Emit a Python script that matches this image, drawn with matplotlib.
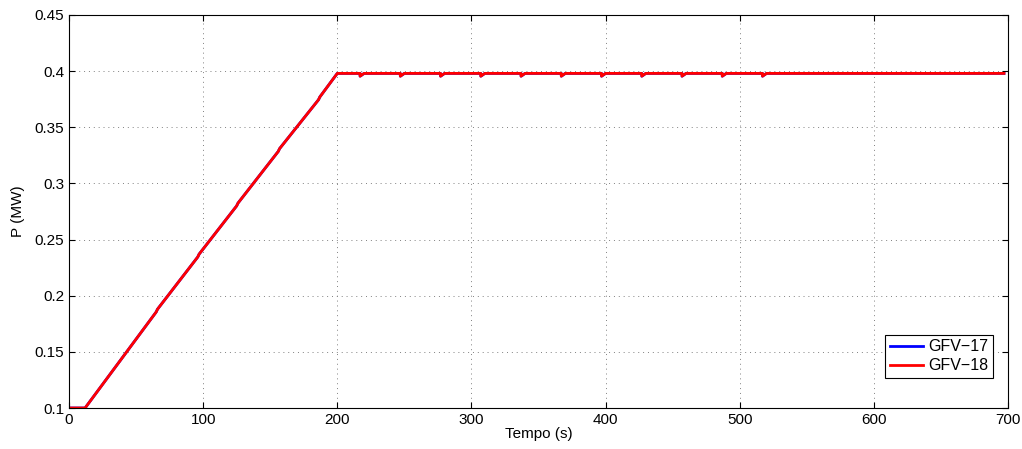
import numpy as np
import matplotlib
matplotlib.use("Agg")
from matplotlib import pyplot as plt

plt.rcParams['font.family'] = ['Liberation Sans', 'DejaVu Sans']

# time (s) and active power (MW)
t_ramp = [0, 12, 65, 66, 96, 97, 125, 126, 156, 157, 186, 187, 200]
p_ramp = [0.100, 0.100, 0.1855, 0.1880, 0.2345, 0.2370, 0.2800, 0.2825,
          0.3285, 0.3310, 0.3745, 0.3770, 0.398]

dip_times = [217, 247, 277, 307, 337, 367, 397, 427, 457, 487, 517]
p_top = 0.398
p_dip = 0.3955
t_end = 697

labels = ['GFV\u221217', 'GFV\u221218']
colors = ['#0000ff', '#ff0000']


def build_series():
	t = list(t_ramp)
	p = list(p_ramp)
	for td in dip_times:
		t += [td, td, td + 3]
		p += [p_top, p_dip, p_top]
	t.append(t_end)
	p.append(p_top)
	return np.array(t), np.array(p)


t17, p17 = build_series()
t18, p18 = build_series()

fig = plt.figure(figsize=(10.22, 4.49), dpi=100)
ax = fig.add_axes([0.0675, 0.0913, 0.9188, 0.8753])

ax.plot(t17, p17, color=colors[0], lw=2, label=labels[0])
ax.plot(t18, p18, color=colors[1], lw=2, label=labels[1])

ax.set_xlim(0, 700)
ax.set_ylim(0.1, 0.45)
ax.set_xticks(np.arange(0, 701, 100))
ax.set_yticks(np.arange(0.1, 0.451, 0.05))
ax.set_yticklabels(['0.1', '0.15', '0.2', '0.25', '0.3', '0.35', '0.4', '0.45'])
ax.tick_params(direction='in', top=True, right=True, labelsize=11, length=4)
ax.grid(True, linestyle=(0, (1, 4)), color='#808080', lw=0.7)

ax.set_xlabel('Tempo (s)', fontsize=11, labelpad=0)
ax.set_ylabel('P (MW)', fontsize=11, labelpad=7)

leg = ax.legend(loc='lower right', bbox_to_anchor=(0.984, 0.076), fontsize=11.5,
                fancybox=False, framealpha=1, edgecolor='black', borderaxespad=0,
                handlelength=2.1, borderpad=0.3, labelspacing=0.25, handletextpad=0.3)
leg.get_frame().set_linewidth(0.8)

plt.savefig('out.png', dpi=100)
